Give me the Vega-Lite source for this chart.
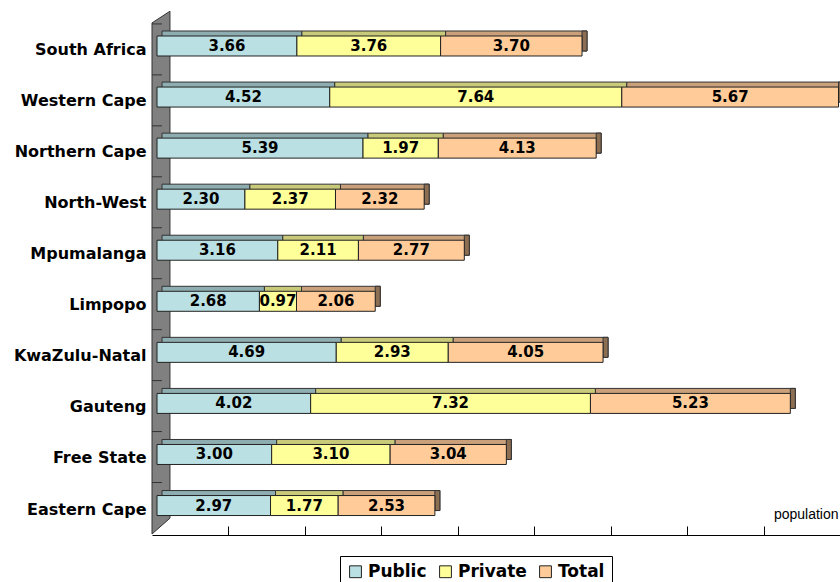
{
  "$schema": "https://vega.github.io/schema/vega-lite/v6.json",
  "width": 688,
  "height": 535,
  "autosize": {"type": "none"},
  "padding": {"left": 152, "top": 0, "right": 0, "bottom": 47},
  "background": "white",
  "config": {"view": {"stroke": null}},
  "layer": [
    {
      "data": {
        "values": [
          {"wx": 0, "top": 10.05, "bottom": 0.02},
          {"wx": 0.47, "top": 10.28, "bottom": 0.33}
        ]
      },
      "layer": [
        {
          "mark": {"type": "area", "fill": "#808080", "stroke": "#333333", "strokeWidth": 1},
          "encoding": {
            "x": {"field": "wx", "type": "quantitative", "scale": {"domain": [0, 18], "nice": false, "zero": false}},
            "y": {"field": "top", "type": "quantitative", "scale": {"domain": [0, 10.5], "nice": false, "zero": false}, "axis": null},
            "y2": {"field": "bottom"}
          }
        },
        {
          "data": {
            "values": [
              {"wy": 10.03}, {"wy": 9.03}, {"wy": 8.03}, {"wy": 7.03}, {"wy": 6.03},
              {"wy": 5.03}, {"wy": 4.03}, {"wy": 3.03}, {"wy": 2.03}, {"wy": 1.03}
            ]
          },
          "mark": {"type": "rule", "color": "#333333", "strokeWidth": 1},
          "encoding": {
            "x": {"datum": 0, "type": "quantitative"},
            "x2": {"datum": 0.26},
            "y": {"field": "wy", "type": "quantitative"}
          }
        }
      ]
    },
    {
      "data": {
        "values": [
          {"region": "South Africa", "Public": 3.66, "Private": 3.76, "Total": 3.70},
          {"region": "Western Cape", "Public": 4.52, "Private": 7.64, "Total": 5.67},
          {"region": "Northern Cape", "Public": 5.39, "Private": 1.97, "Total": 4.13},
          {"region": "North-West", "Public": 2.30, "Private": 2.37, "Total": 2.32},
          {"region": "Mpumalanga", "Public": 3.16, "Private": 2.11, "Total": 2.77},
          {"region": "Limpopo", "Public": 2.68, "Private": 0.97, "Total": 2.06},
          {"region": "KwaZulu-Natal", "Public": 4.69, "Private": 2.93, "Total": 4.05},
          {"region": "Gauteng", "Public": 4.02, "Private": 7.32, "Total": 5.23},
          {"region": "Free State", "Public": 3.00, "Private": 3.10, "Total": 3.04},
          {"region": "Eastern Cape", "Public": 2.97, "Private": 1.77, "Total": 2.53}
        ]
      },
      "transform": [
        {"fold": ["Public", "Private", "Total"], "as": ["series", "value"]},
        {"stack": "value", "groupby": ["region"], "as": ["x0", "x1"]}
      ],
      "encoding": {
        "y": {
          "field": "region",
          "type": "nominal",
          "sort": null,
          "scale": {"paddingInner": 0.6083, "paddingOuter": 0.543, "align": 0.649},
          "axis": {
            "orient": "left",
            "title": null,
            "domain": false,
            "ticks": false,
            "labelPadding": 6,
            "labelOffset": 4,
            "labelFont": "DejaVu Sans",
            "labelFontSize": 16,
            "labelFontWeight": "bold",
            "labelColor": "#000000"
          }
        }
      },
      "layer": [
        {
          "mark": {"type": "bar", "xOffset": 10, "x2Offset": 10, "yOffset": -5, "stroke": "#333333", "strokeWidth": 1},
          "encoding": {
            "x": {
              "field": "x0",
              "type": "quantitative",
              "scale": {"domain": [0, 18], "nice": false, "zero": false},
              "axis": {
                "values": [2, 4, 6, 8, 10, 12, 14, 16, 18],
                "labels": false,
                "grid": false,
                "domainColor": "#000000",
                "tickColor": "#000000",
                "tickSize": -9,
                "title": "population",
                "titleX": 686,
                "titleY": -17,
                "titleAlign": "right",
                "titleBaseline": "alphabetic",
                "titleFont": "Liberation Sans",
                "titleFontSize": 14,
                "titleFontWeight": "normal",
                "titleColor": "#000000"
              }
            },
            "x2": {"field": "x1"},
            "fill": {
              "condition": [
                {"test": "datum.series === 'Public'", "value": "#8EADB1"},
                {"test": "datum.series === 'Private'", "value": "#C9C97A"}
              ],
              "value": "#C9A07A"
            }
          }
        },
        {
          "transform": [{"filter": "datum.series === 'Total'"}],
          "mark": {"type": "bar", "xOffset": 5, "x2Offset": 10, "yOffset": -5, "fill": "#8C6E52", "stroke": "#333333", "strokeWidth": 1},
          "encoding": {
            "x": {"field": "x1", "type": "quantitative"},
            "x2": {"field": "x1"}
          }
        },
        {
          "mark": {"type": "bar", "xOffset": 5, "x2Offset": 5, "stroke": "#222222", "strokeWidth": 1},
          "encoding": {
            "x": {"field": "x0", "type": "quantitative"},
            "x2": {"field": "x1"},
            "color": {
              "field": "series",
              "type": "nominal",
              "scale": {"domain": ["Public", "Private", "Total"], "range": ["#BAE0E3", "#FFFF99", "#FFCC99"]},
              "legend": {
                "title": null,
                "orient": "none",
                "legendX": 188,
                "legendY": 556,
                "direction": "horizontal",
                "strokeColor": "#000000",
                "fillColor": "#ffffff",
                "padding": 7,
                "labelFont": "DejaVu Sans",
                "labelFontSize": 17,
                "labelFontWeight": "bold",
                "labelColor": "#000000",
                "labelOffset": 4,
                "symbolType": "square",
                "symbolSize": 140,
                "symbolStrokeColor": "#222222",
                "symbolStrokeWidth": 1,
                "columnPadding": 10
              }
            }
          }
        },
        {
          "transform": [{"calculate": "(datum.x0 + datum.x1) / 2", "as": "xmid"}],
          "mark": {"type": "text", "font": "DejaVu Sans", "fontWeight": "bold", "fontSize": 15, "xOffset": 5, "baseline": "middle", "align": "center", "color": "#000000"},
          "encoding": {
            "x": {"field": "xmid", "type": "quantitative"},
            "text": {"field": "value", "type": "quantitative", "format": ".2f"}
          }
        }
      ]
    }
  ],
  "resolve": {"scale": {"y": "independent"}, "axis": {"y": "independent"}}
}
